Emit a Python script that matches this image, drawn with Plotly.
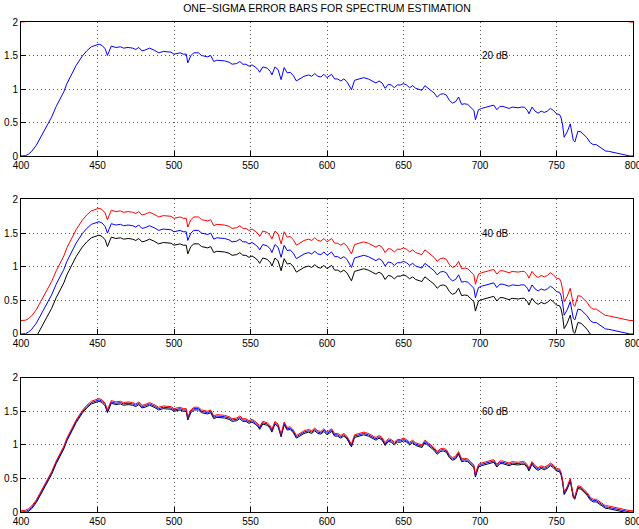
import plotly.graph_objects as go
from plotly.subplots import make_subplots

# Estimated spectrum (wavelength in nm) and one-sigma error at each SNR
wavelength_nm = [400, 403, 405, 407, 410, 413, 417, 420, 423, 425, 427, 428, 430, 433, 436,
                 440, 443, 446, 449, 451, 453, 455, 456.5, 458, 459, 462, 465, 467, 470, 473,
                 475, 477, 479, 481, 484, 487, 490, 493, 496, 498, 500, 502, 504, 506, 508,
                 509, 511, 513, 516, 518, 520, 522, 524, 526, 528, 530, 533, 536, 538, 541,
                 543, 545, 547, 549, 551, 553, 555, 556, 558, 561, 563, 564, 566, 568, 570,
                 572, 574, 576, 578, 580, 582, 585, 588, 590, 592, 594, 596, 598, 600, 603,
                 605, 607, 609, 611, 613, 616, 618, 621, 624, 627, 630, 632, 634, 636, 638,
                 640, 642, 644, 646, 648, 650, 652, 654, 656, 658, 660, 662, 664, 666, 668,
                 670, 672, 674, 676, 678, 680, 682, 684, 686, 688, 690, 692, 694, 696, 697,
                 699, 701, 703, 705, 707, 709, 711, 713, 715, 717, 719, 721, 723, 725, 727,
                 729, 731, 732, 734, 736, 738, 740, 742, 744, 746, 748, 750, 752, 753, 754,
                 755, 757, 759, 761, 762, 764, 766, 768, 770, 772, 774, 776, 778, 780, 782,
                 784, 786, 788, 790, 792, 795, 798, 800]
spectrum = [0.0, 0.005, 0.03, 0.07, 0.16, 0.28, 0.44, 0.58, 0.74, 0.83, 0.91, 0.96, 1.08, 1.22, 1.35,
            1.49, 1.57, 1.63, 1.66, 1.67, 1.65, 1.60, 1.50, 1.58, 1.64, 1.62, 1.63, 1.61, 1.62, 1.61,
            1.59, 1.62, 1.57, 1.58, 1.61, 1.58, 1.54, 1.56, 1.56, 1.55, 1.52, 1.53, 1.54, 1.52, 1.52,
            1.39, 1.50, 1.54, 1.54, 1.50, 1.49, 1.48, 1.50, 1.41, 1.43, 1.43, 1.42, 1.40, 1.37, 1.38,
            1.41, 1.37, 1.37, 1.34, 1.36, 1.33, 1.29, 1.25, 1.33, 1.31, 1.26, 1.21, 1.33, 1.29, 1.14,
            1.32, 1.24, 1.25, 1.20, 1.12, 1.15, 1.19, 1.21, 1.19, 1.23, 1.19, 1.18, 1.22, 1.17, 1.22,
            1.15, 1.15, 1.12, 1.15, 1.11, 0.99, 1.13, 1.15, 1.17, 1.15, 1.12, 1.09, 1.12, 1.09, 1.01,
            1.07, 1.06, 1.02, 1.06, 1.06, 1.08, 1.06, 1.02, 1.05, 1.01, 0.99, 0.98, 1.05, 1.01, 0.97,
            0.94, 0.88, 0.92, 0.93, 0.91, 0.83, 0.79, 0.81, 0.88, 0.77, 0.78, 0.77, 0.73, 0.68, 0.54,
            0.69, 0.71, 0.72, 0.73, 0.74, 0.76, 0.69, 0.74, 0.74, 0.72, 0.71, 0.73, 0.72, 0.72, 0.73,
            0.73, 0.68, 0.63, 0.73, 0.67, 0.64, 0.67, 0.65, 0.67, 0.71, 0.68, 0.63, 0.62, 0.57, 0.46,
            0.28, 0.36, 0.48, 0.23, 0.21, 0.37, 0.36, 0.32, 0.27, 0.20, 0.17, 0.17, 0.14, 0.11, 0.075,
            0.07, 0.06, 0.045, 0.03, 0.02, 0.005, 0.0, 0.0]

snr_labels = ["20 dB", "40 dB", "60 dB"]
sigma = [2.0, 0.2, 0.02]

x_ticks = [400, 450, 500, 550, 600, 650, 700, 750, 800]
y_ticks = [0, 0.5, 1, 1.5, 2]
y_tick_text = ["0", "0.5", "1", "1.5", "2"]

font_family = "Liberation Sans, Arial, Helvetica, sans-serif"

fig = make_subplots(rows=3, cols=1)

domains = [[0.7265, 1.0], [0.3633, 0.6378], [0.0, 0.274]]

for i, (label, s) in enumerate(zip(snr_labels, sigma)):
    row = i + 1
    lower = [v - s for v in spectrum]
    upper = [v + s for v in spectrum]
    fig.add_trace(go.Scatter(x=wavelength_nm, y=lower, mode="lines",
                             line=dict(color="#000000", width=1)), row=row, col=1)
    fig.add_trace(go.Scatter(x=wavelength_nm, y=spectrum, mode="lines",
                             line=dict(color="#0000ff", width=1)), row=row, col=1)
    fig.add_trace(go.Scatter(x=wavelength_nm, y=upper, mode="lines",
                             line=dict(color="#ff0000", width=1)), row=row, col=1)
    fig.update_xaxes(range=[400, 800], tickvals=x_ticks, ticks="inside", ticklen=5,
                     tickcolor="#000", showline=True, linecolor="#000", linewidth=1,
                     mirror=True, showgrid=True, gridcolor="#555", griddash="1px,3px",
                     gridwidth=1, zeroline=False, ticklabeloverflow="allow",
                     automargin=False, row=row, col=1)
    fig.update_yaxes(range=[0, 2], tickvals=y_ticks, ticktext=y_tick_text, ticks="inside",
                     ticklen=5, tickcolor="#000", showline=True, linecolor="#000",
                     linewidth=1, mirror=True, showgrid=True, gridcolor="#555",
                     griddash="1px,3px", gridwidth=1, zeroline=False,
                     automargin=False, domain=domains[i], row=row, col=1)
    xref = "x" if i == 0 else f"x{i + 1}"
    yref = "y" if i == 0 else f"y{i + 1}"
    fig.add_annotation(x=700, y=1.5, xref=xref, yref=yref, text=label, showarrow=False,
                       xanchor="left", yanchor="middle",
                       font=dict(size=10, color="#000", family=font_family))

fig.update_layout(
    width=639, height=529,
    margin=dict(l=21, r=6, t=22, b=17, autoexpand=False),
    paper_bgcolor="#ffffff", plot_bgcolor="#ffffff",
    showlegend=False,
    font=dict(family=font_family, size=10, color="#000"),
    title=dict(text="ONE\u2212SIGMA ERROR BARS FOR SPECTRUM ESTIMATION",
               x=(21 + 633) / 2 / 639, xanchor="center", y=1 - 8 / 529, yanchor="middle",
               font=dict(size=10.5, color="#000", family=font_family)),
)

fig.write_html("out.html")
